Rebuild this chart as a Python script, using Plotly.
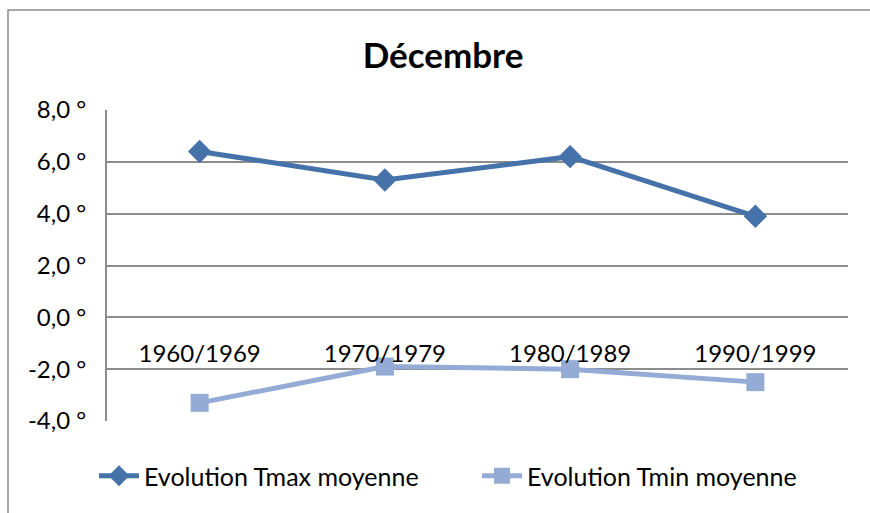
import plotly.graph_objects as go

# Decade categories and mean December temperatures (°C)
decades = ["1960/1969", "1970/1979", "1980/1989", "1990/1999"]
tmax_moyenne = [6.4, 5.3, 6.2, 3.9]
tmin_moyenne = [-3.3, -1.9, -2.0, -2.5]

# Y axis ticks, French decimal comma with degree sign
y_ticks = [8, 6, 4, 2, 0, -2, -4]
y_tick_labels = ["8,0 °", "6,0 °", "4,0 °", "2,0 °", "0,0 °", "-2,0 °", "-4,0 °"]

FONT = "Lato"
W, H = 870, 513
L, R, T, B = 107, 22, 110, 92

fig = go.Figure()
fig.add_trace(go.Scatter(
    x=decades, y=tmax_moyenne, mode="lines+markers",
    name="Evolution Tmax moyenne",
    line=dict(color="#4672AA", width=5),
    marker=dict(symbol="diamond", size=18, color="#4672AA"),
))
fig.add_trace(go.Scatter(
    x=decades, y=tmin_moyenne, mode="lines+markers",
    name="Evolution Tmin moyenne",
    line=dict(color="#93ABD5", width=5),
    marker=dict(symbol="square", size=18, color="#93ABD5"),
))

pw, ph = W - L - R, H - T - B


def px_to_paper_x(px):
    return (px - L) / pw


def px_to_paper_y(py):
    return (H - B - py) / ph


fig.update_layout(
    width=W, height=H,
    margin=dict(l=L, r=R, t=T, b=B),
    paper_bgcolor="white", plot_bgcolor="white",
    font=dict(family=FONT, size=23, color="#000000"),
    title=dict(text="<b>Décembre</b>", x=443 / W, xref="container", xanchor="center",
               y=1 - 56 / H, yref="container", yanchor="middle",
               font=dict(family=FONT, size=35, color="#000000")),
    showlegend=True,
    legend=dict(orientation="h", x=px_to_paper_x(94), xanchor="left",
                y=px_to_paper_y(476), yanchor="middle",
                font=dict(family=FONT, size=25), itemwidth=40,
                entrywidth=328, entrywidthmode="pixels",
                bgcolor="rgba(0,0,0,0)"),
    xaxis=dict(
        type="category", range=[-0.5, 3.5],
        anchor="free", position=(0 - (-4)) / 12,
        showgrid=False, zeroline=False, showline=False,
        ticks="", ticklabelstandoff=20,
        tickfont=dict(family=FONT, size=24),
        fixedrange=True,
    ),
    yaxis=dict(
        range=[-4, 8], tickvals=y_ticks, ticktext=y_tick_labels,
        showgrid=True, gridcolor="#8C8C8C", gridwidth=2,
        zeroline=False, showline=True, linecolor="#8C8C8C", linewidth=2,
        ticks="", ticklabelstandoff=14,
        tickfont=dict(family=FONT, size=24),
        fixedrange=True,
    ),
    shapes=[
        # outer chart frame
        dict(type="rect", xref="paper", yref="paper",
             x0=px_to_paper_x(8), x1=px_to_paper_x(880),
             y0=px_to_paper_y(520), y1=px_to_paper_y(10),
             line=dict(color="#8C8C8C", width=1.5), layer="below"),
    ],
)

fig.write_html("out.html")
